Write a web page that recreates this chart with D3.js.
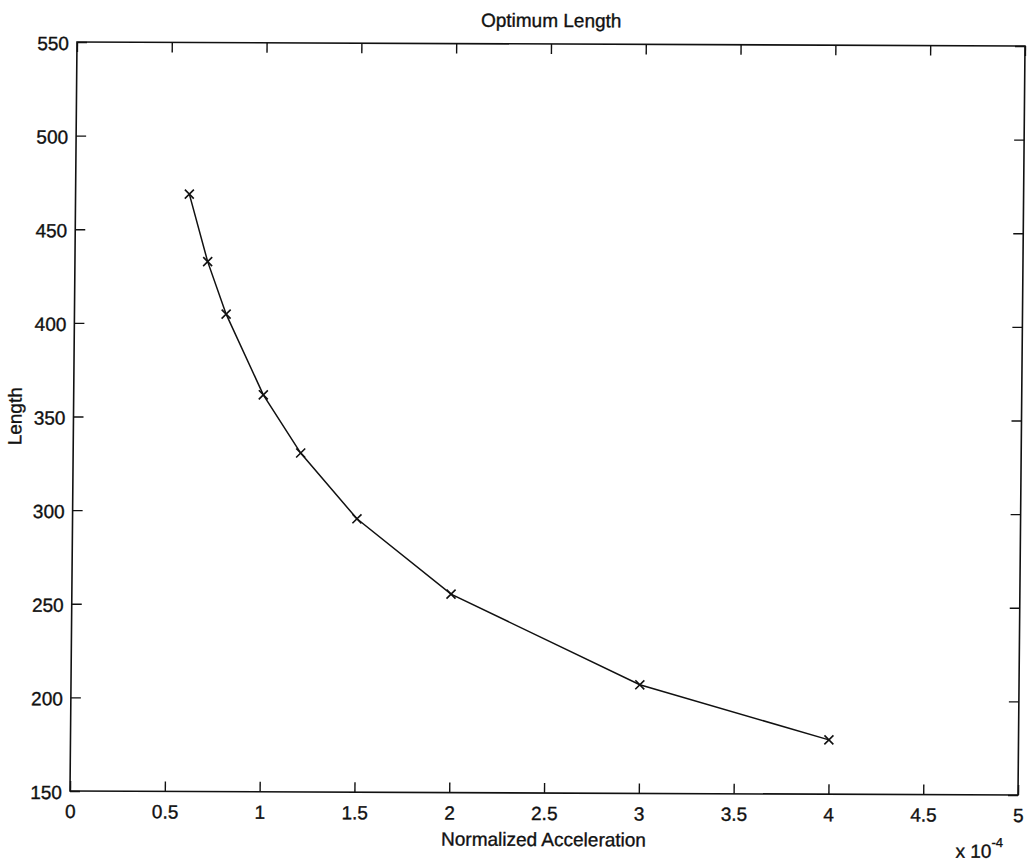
<!DOCTYPE html>
<html><head><meta charset="utf-8">
<script src="https://d3js.org/d3.v7.min.js"></script>
<style>
html,body{margin:0;padding:0;background:#fff;}
text{font-family:"Liberation Sans",Arial,sans-serif;fill:#111;stroke:#111;stroke-width:0.35px;}
</style></head>
<body>
<svg id="chart" width="1028" height="867"></svg>
<script>
// Data (x in units of 1e-4)
const accel = [0.6, 0.7, 0.8, 1.0, 1.2, 1.5, 2.0, 3.0, 4.0];
const lengthVals = [469, 433, 405, 362, 331, 296, 256, 208, 179];
const xTicks = [0, 0.5, 1, 1.5, 2, 2.5, 3, 3.5, 4, 4.5, 5];
const yTicks = [150, 200, 250, 300, 350, 400, 450, 500, 550];
const titleText = "Optimum Length";
const xLabelText = "Normalized Acceleration";
const yLabelText = "Length";

const W = 948, H = 749;
const svg = d3.select("#chart");
// slight skew/rotation of scanned original
const g = svg.append("g").attr("transform", "matrix(1,0.00422,-0.00935,1,77,42)");

const x = d3.scaleLinear().domain([0, 5]).range([0, W]);
const y = d3.scaleLinear().domain([150, 550]).range([H, 0]);

const fmt = d => (d === 0 ? "0" : d3.format("~g")(d));
const tickLen = 10;
const fs = 19;

// Box
g.append("rect").attr("x", 0).attr("y", 0).attr("width", W).attr("height", H)
  .attr("fill", "none").attr("stroke", "#111").attr("stroke-width", 1.6);

const xb = d3.axisBottom(x).tickValues(xTicks).tickSize(-tickLen).tickPadding(0).tickFormat(fmt);
const xa = g.append("g").attr("transform", `translate(0,${H})`).call(xb);
const xt = d3.axisTop(x).tickValues(xTicks).tickSize(-tickLen).tickFormat("");
const xta = g.append("g").call(xt);
const yl = d3.axisLeft(y).tickValues(yTicks).tickSize(-tickLen).tickPadding(8).tickFormat(d3.format("d"));
const ya = g.append("g").call(yl);
const yr = d3.axisRight(y).tickValues(yTicks).tickSize(-tickLen).tickFormat("");
const yra = g.append("g").attr("transform", `translate(${W},0)`).call(yr);

[xa, xta, ya, yra].forEach(a => {
  a.select(".domain").remove();
  a.selectAll(".tick line").attr("stroke", "#111").attr("stroke-width", 1.4);
  a.selectAll("text").attr("font-size", fs).attr("fill", "#111")
    .style("font-family", '"Liberation Sans",Arial,sans-serif');
});
ya.selectAll("text").attr("dy", "0.4em");
xa.selectAll("text").attr("y", 27).attr("dy", 0);

// line
const line = d3.line().x((d, i) => x(accel[i])).y(d => y(d));
g.append("path").datum(lengthVals).attr("d", line)
  .attr("fill", "none").attr("stroke", "#111").attr("stroke-width", 1.5);

// X markers
const ms = 4.5;
g.append("g").selectAll("path").data(lengthVals).enter().append("path")
  .attr("d", (d, i) => {
    const cx = x(accel[i]), cy = y(d);
    return `M${cx-ms},${cy-ms}L${cx+ms},${cy+ms}M${cx-ms},${cy+ms}L${cx+ms},${cy-ms}`;
  })
  .attr("stroke", "#111").attr("stroke-width", 1.6).attr("fill", "none");

// Title
g.append("text").attr("x", W / 2).attr("y", -17).attr("text-anchor", "middle")
  .attr("font-size", 19).text(titleText);
// X label
g.append("text").attr("x", W / 2).attr("y", H + 53).attr("text-anchor", "middle")
  .attr("font-size", 19).text(xLabelText);
// Y label
g.append("text").attr("transform", `translate(-52,${H / 2}) rotate(-90)`)
  .attr("text-anchor", "middle").attr("font-size", 19).text(yLabelText);
// exponent
const ex = g.append("text").attr("x", W - 62).attr("y", H + 63).attr("font-size", 19);
ex.append("tspan").text("x 10");
ex.append("tspan").attr("dy", -11).attr("font-size", 13).text("-4");
</script>
</body></html>
